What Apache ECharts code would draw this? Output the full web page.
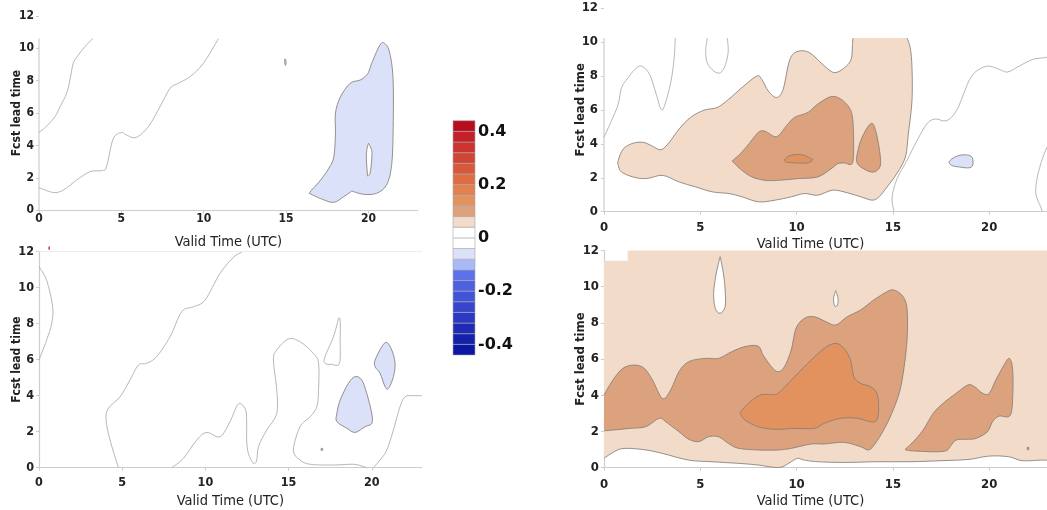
<!DOCTYPE html>
<html>
<head>
<meta charset="utf-8">
<script src="https://cdn.jsdelivr.net/npm/echarts@6/dist/echarts.min.js"></script>
<style>
  html, body { margin: 0; padding: 0; background: #fff; }
  #chart { width: 1047px; height: 510px; }
</style>
</head>
<body>
<div id="chart"></div>
<script>
// ---------- tick labels ----------
const hourTicks = [0, 5, 10, 15, 20];
const leadTicks = [0, 2, 4, 6, 8, 10, 12];
const barTicks = [0.4, 0.2, 0, -0.2, -0.4];

// ---------- colour bands (lower edge of each 0.04 band) ----------
const bandStep = 0.04;
const bandLower = [-0.44, -0.40, -0.36, -0.32, -0.28, -0.24, -0.20, -0.16, -0.12, -0.08, -0.04,
                   0.00, 0.04, 0.08, 0.12, 0.16, 0.20, 0.24, 0.28, 0.32, 0.36, 0.40];
const bandColors = ['#0b16a2', '#1520ab', '#1f2bb6', '#2b38c1', '#3646cc', '#4254d6', '#4e62df',
                    '#5c72e8', '#a9b9f5', '#dae1f8', '#ffffff', '#ffffff', '#f2dbc8', '#dca27d',
                    '#e2925e', '#e3804d', '#de6c44', '#d8583d', '#d14535', '#ca332e', '#c32127', '#b90d1f'];

// ---------- contours: [valid hour, lead time, vertex kind] ----------
// vertex kind: 1 = sharp vertex, 2 = vertex on the plot frame (edge between two such is not outlined)

// top-left panel
const tlZeroA = [[0,4.8],[0.47,5.2],[0.97,5.78],[1.28,6.4],[1.68,7.22],[1.88,8.05],[2.08,9.07],[2.39,9.59],[2.79,10.1],[3.26,10.6]];
const tlZeroB = [[0,1.4],[0.87,1.1],[1.48,1.25],[2.29,1.87],[3.1,2.39],[3.8,2.45],[4.1,2.7],[4.5,4.4],[5.0,4.8],[5.3,4.65],[5.9,4.5],[6.64,5.16],[7.35,6.4],[7.96,7.53],[8.46,7.84],[9.17,8.25],[9.98,9.07],[10.9,10.6]];
const tlBlue = [[16.4,1.05,1],[17.2,0.68],[17.9,0.49],[18.5,0.84],[19.0,1.19,1],[19.7,0.99],[20.5,1.05],[21.1,1.56],[21.4,2.7],[21.5,4.75],[21.5,8.04],[21.3,9.7],[21.0,10.3],[20.7,10.2],[20.2,9.07],[20.06,8.66],[19.9,8.35],[19.5,8.04],[18.9,7.84],[18.3,7.0],[18.0,6.0],[18.0,4.75],[17.9,3.3],[17.6,2.6],[17.1,1.87],[16.6,1.3]];
const tlBlueHole = [[20.0,4.14,1],[20.2,3.7],[20.2,3.1],[20.1,2.28],[19.95,2.12,1],[19.88,3.1],[19.9,3.7]];
const tlSpeck = [[14.93,9.35],[15.0,9.2],[14.97,8.95],[14.92,9.1]];

// top-right panel
const trLow = [[0.74,3.02],[1.0,3.7],[1.5,4.03],[2.02,4.09],[2.45,3.9],[2.96,3.65],[3.39,4.09],[3.9,4.87],[4.5,5.56],[5.19,5.98],[5.88,6.14],[6.48,6.63],[7.16,7.31],[7.93,7.99],[8.19,7.8],[8.53,7.11],[8.96,6.73],[9.3,7.21],[9.65,8.97],[10.08,9.45],[10.68,9.36],[11.45,8.58],[11.96,8.19],[12.48,8.48],[12.83,8.97],[12.9,9.84],[12.92,10.23,2],[15.73,10.23,2],[15.9,9.65],[15.99,8.48],[15.99,6.53],[15.8,4.58],[15.65,3.22],[15.2,2.24],[14.7,1.46],[14.28,0.88],[13.93,0.68],[13.33,0.88],[12.65,1.11],[11.88,1.27],[11.1,0.97],[10.42,1.07],[9.73,0.88],[8.88,0.68],[8.02,0.58],[7.16,0.88],[6.48,1.07],[5.62,1.17],[4.76,1.46],[3.9,1.75],[3.05,2.14],[2.19,1.95],[1.5,2.05],[0.91,2.34],[0.74,2.73]];
const trMid = [[6.65,2.98,1],[7.16,3.51],[7.59,4.09],[8.02,4.68],[8.36,4.74],[8.96,4.42],[9.48,5.07],[9.9,5.56],[10.59,5.85],[11.1,6.34],[11.79,6.78],[12.3,6.63],[12.73,6.14],[12.9,5.56],[12.96,4.19],[12.9,2.87],[12.48,2.87],[12.14,2.83],[11.79,2.53],[11.1,2.05],[10.08,1.95],[9.05,1.85],[8.36,1.85],[7.68,2.05],[7.16,2.44]];
const trMidSmall = [[13.13,3.31],[13.33,4.19],[13.68,4.97],[13.93,5.2],[14.1,4.78],[14.28,3.8],[14.36,2.83],[14.19,2.44],[13.85,2.34],[13.33,2.63],[13.13,2.92]];
const trCore = [[9.36,3.02,1],[9.56,3.26],[9.99,3.37],[10.42,3.31],[10.85,3.06,1],[10.59,2.88],[9.99,2.87],[9.48,2.92]];
const trBlue = [[17.93,2.96],[18.22,3.22],[18.65,3.35],[19.07,3.26],[19.16,2.83],[18.99,2.59],[18.47,2.63],[18.04,2.73]];
const trZeroH = [[0,4.39],[0.39,5.36],[0.74,6.34],[0.91,7.31],[1.25,7.89],[1.6,8.38],[1.94,8.58],[2.37,8.09],[2.71,6.92],[2.96,6.04],[3.14,6.24],[3.48,7.7],[3.65,9.16],[3.7,10.23]];
const trZeroI = [[5.36,10.23],[5.28,9.45],[5.36,8.77],[5.7,8.28],[6.05,8.19],[6.31,8.67],[6.45,9.45],[6.4,10.23]];
const trZeroJ = [[15.05,0],[14.96,0.88],[15.22,1.95],[15.73,3.02],[16.25,4.19],[16.76,5.17],[17.19,5.46],[17.79,5.36],[18.3,5.95],[18.73,7.11],[18.99,7.8],[19.33,8.28],[19.93,8.58],[20.53,8.38],[20.96,8.23],[21.56,8.58],[22.25,8.97],[22.76,9.06],[23,9.1]];
const trZeroK = [[23,3.8],[22.76,3.12],[22.5,2.05],[22.42,1.07],[22.67,0.29],[22.76,0]];

// bottom-left panel
const blZeroC = [[0,11.17],[0.46,10.4],[0.82,8.94],[0.76,8.0],[0.46,7.1],[0,5.98]];
const blZeroD = [[4.77,0],[4.27,1.54],[4.03,2.65],[4.17,3.3],[4.87,3.94],[5.47,4.87],[5.97,5.7],[6.47,5.8],[7.07,6.17],[7.88,7.28],[8.58,8.67],[9.28,8.94],[9.98,9.31],[10.88,10.8],[11.7,11.7],[12.18,11.96]];
const blZeroE = [[7.98,0],[8.68,0.52],[9.48,1.54],[10.08,1.96],[10.88,1.72],[11.48,2.56],[11.98,3.54],[12.4,3.25],[12.48,2.6],[12.48,1.54],[12.58,0.8],[12.89,0.24],[13.09,0.43],[13.19,1.17],[13.69,2.1],[14.29,3.0],[14.29,4.3],[14.09,5.98],[14.29,6.54],[14.99,7.15],[15.69,7.0],[16.49,6.35],[16.8,5.8],[16.8,4.3],[16.7,3.4],[16.3,2.83],[15.69,2.28],[15.29,0.98],[15.69,0.43],[16.3,0.19],[17.7,0.15],[18.9,0.19],[19.5,0.06],[19.7,0]];
const blZeroF = [[17.19,6.17],[17.7,7.28],[18.0,8.3,1],[18.1,8.2],[18.1,7.1],[18.06,5.8],[17.6,5.74],[17.19,5.8]];
const blZeroG = [[20.1,0],[20.5,0.43],[20.9,0.98],[21.3,2.1],[21.7,3.4],[22.0,3.94],[22.4,4.0],[23,4.0]];
const blBlueA = [[17.9,3.0],[18.1,3.76],[18.6,4.69],[19.0,5.06],[19.4,4.87],[19.7,4.13],[20.0,3.0],[20.0,2.46],[19.6,2.28],[19.0,1.96],[18.5,2.19],[17.9,2.56]];
const blBlueB = [[20.2,5.98],[20.6,6.72],[20.9,6.96],[21.2,6.54],[21.4,5.8],[21.3,5.06],[21.0,4.4],[20.8,4.5],[20.5,5.24],[20.2,5.61]];
const blDot = [[16.96,1.07],[17.04,1.07],[17.04,0.97],[16.96,0.97]];
const blRedSpeck = [[0.58,12.28],[0.64,12.28],[0.64,12.12],[0.58,12.12]];

// bottom-right panel
const brLow = [[0,11.44,2],[1.23,11.44,2],[1.23,12,2],[23,12,2],[23,0.4,2],[22.76,0.42],[21.7,0.39],[21.0,0.61],[19.97,0.64],[18.97,0.46],[17.6,0.39],[15.89,0.33],[14.17,0.33],[12.46,0.29],[11.1,0.33],[10.4,0.42],[10.06,0.52],[9.72,0.33],[9.2,0.03],[8.6,0.05],[8.0,0.15],[6.98,0.24],[5.6,0.33],[4.4,0.42],[3.03,0.79],[2.18,0.98],[1.15,1.07],[0.63,0.94],[0,0.52,2]];
const brMid = [[0,4.01,2],[0.46,4.84],[0.98,5.49],[1.58,5.67],[2.09,5.49],[2.52,4.84],[3.03,3.83],[3.46,4.29],[3.89,5.3],[4.4,5.86],[5.26,6.04],[5.95,6.04],[6.63,6.41],[7.32,6.69],[8.0,6.72],[8.26,6.22],[8.69,5.58],[9.03,5.3],[9.37,5.58],[9.72,6.5],[9.97,7.7],[10.4,8.25],[10.92,8.34],[11.52,8.07],[12.03,7.88],[12.63,8.34],[13.32,8.71],[14.0,9.26],[14.69,9.72],[15.03,9.82],[15.46,9.54],[15.72,8.9],[15.75,7.42],[15.63,5.95],[15.37,4.29],[14.94,3.0],[14.52,2.08],[14.09,1.34],[13.74,0.98],[13.32,1.16],[12.46,1.4],[11.43,1.31],[10.75,1.31],[9.72,1.07],[9.03,0.98],[8.0,0.98],[6.98,1.07],[6.46,1.34],[5.95,1.71],[5.43,1.71],[4.92,1.44],[4.4,1.57],[3.89,1.99],[3.2,2.54],[2.86,2.73],[2.18,2.27],[1.32,2.17],[0.46,2.08],[0,2.04,2]];
const brMidRight = [[15.63,1.01,1],[16.06,1.44],[16.57,2.08],[17.09,3.0],[17.6,3.55],[18.28,4.11],[18.89,4.57],[19.23,4.48],[19.66,4.11],[20.0,4.11],[20.34,4.84],[20.77,5.67],[21.03,6.04],[21.2,5.58],[21.23,4.29],[21.1,2.91],[20.51,2.85],[20.17,2.54],[19.91,1.99],[19.31,1.62],[18.8,1.57],[18.29,1.53],[18.03,1.25],[17.77,0.94],[17.09,0.88],[15.89,0.94]];
const brCore = [[7.06,3.04,1],[7.49,3.55],[8.09,4.01],[8.6,4.05],[9.03,4.11],[9.72,4.84],[10.57,5.76],[11.43,6.59],[12.03,6.87],[12.46,6.59],[12.8,5.95],[12.97,5.03],[13.32,4.66],[13.83,4.48],[14.17,4.11],[14.26,3.37],[14.17,2.63],[13.83,2.54],[13.14,2.73],[12.29,2.73],[11.43,2.45],[10.92,2.17],[9.89,2.17],[8.86,2.12],[8.0,2.27],[7.32,2.63]];
const brHoleA = [[6.03,11.66,1],[6.2,10.74],[6.29,9.82],[6.29,8.9],[6.03,8.53],[5.78,8.8],[5.69,9.63],[5.83,10.74]];
const brHoleB = [[12.03,9.78,1],[12.15,9.36],[12.12,8.99],[11.98,8.93],[11.92,9.36]];
const brSpeck = [[21.98,1.12],[22.05,1.12],[22.05,1.0],[21.98,1.0]];

// ---------- panel layout ----------
const FONT = '"DejaVu Sans Condensed", "DejaVu Sans", sans-serif';
const panels = [
  { grid: { left: 39, top: 15.9, width: 378.8, height: 194.4 }, tick: 12, xMargin: 3, yMargin: 5,
    yNameGap: 16, yNameSize: 12, xNameGap: 24, nameShift: 0, yLineTop: 10.6,
    shapes: [
      { pts: tlZeroA }, { pts: tlZeroB },
      { level: -0.06, pts: tlBlue }, { level: -0.02, pts: tlBlueHole }, { level: -0.06, pts: tlSpeck }
    ] },
  { grid: { left: 604, top: 8, width: 447, height: 203.7 }, tick: 13, xMargin: 9, yMargin: 6,
    yNameGap: 17, yNameSize: 13, xNameGap: 25, nameShift: 30, yLineTop: 10.23,
    shapes: [
      { level: 0.06, pts: trLow }, { level: 0.10, pts: trMid }, { level: 0.10, pts: trMidSmall },
      { level: 0.14, pts: trCore }, { level: -0.06, pts: trBlue },
      { pts: trZeroH }, { pts: trZeroI }, { pts: trZeroJ }, { pts: trZeroK }
    ] },
  { grid: { left: 39, top: 251.7, width: 382.7, height: 216 }, tick: 12.5, xMargin: 9, yMargin: 5,
    yNameGap: 16, yNameSize: 12, xNameGap: 26, nameShift: 0, yLineTop: null,
    shapes: [
      { pts: blZeroC }, { pts: blZeroD }, { pts: blZeroE }, { pts: blZeroG }, { pts: blZeroF, closed: true },
      { level: -0.06, pts: blBlueA }, { level: -0.06, pts: blBlueB }, { level: -0.10, pts: blDot },
      { level: 0.42, pts: blRedSpeck, bare: true }
    ] },
  { grid: { left: 604, top: 250.5, width: 447, height: 217.2 }, tick: 13, xMargin: 10, yMargin: 5,
    yNameGap: 17, yNameSize: 13, xNameGap: 26, nameShift: 30, yLineTop: null,
    shapes: [
      { level: 0.06, pts: brLow }, { level: 0.10, pts: brMid }, { level: 0.10, pts: brMidRight },
      { level: 0.14, pts: brCore }, { level: 0.02, pts: brHoleA }, { level: 0.02, pts: brHoleB },
      { level: 0.14, pts: brSpeck }
    ] }
];

function colorFor(level) {
  return bandColors[Math.floor((level - bandLower[0]) / bandStep + 1e-9)];
}

// Smooth outline through the points (Catmull-Rom as cubic Bezier), in pixel space.
function outline(pts, closed, api) {
  const P = pts.map(p => { const c = api.coord([p[0], p[1]]); return [c[0], c[1], p[2] || 0]; });
  const n = P.length, k = 1 / 6;
  const at = i => closed ? P[(i + n) % n] : P[Math.min(n - 1, Math.max(0, i))];
  const f = v => v.toFixed(2);
  let fill = 'M' + f(P[0][0]) + ' ' + f(P[0][1]);
  let line = fill;
  const segs = closed ? n : n - 1;
  for (let i = 0; i < segs; i++) {
    const a0 = at(i - 1), a = at(i), b = at(i + 1), b1 = at(i + 2);
    if (a[2] === 2 && b[2] === 2) {
      fill += ' L' + f(b[0]) + ' ' + f(b[1]);
      line += ' M' + f(b[0]) + ' ' + f(b[1]);
      continue;
    }
    const c1 = a[2] ? a : [a[0] + (b[0] - a0[0]) * k, a[1] + (b[1] - a0[1]) * k];
    const c2 = b[2] ? b : [b[0] - (b1[0] - a[0]) * k, b[1] - (b1[1] - a[1]) * k];
    const seg = ' C' + f(c1[0]) + ' ' + f(c1[1]) + ' ' + f(c2[0]) + ' ' + f(c2[1]) + ' ' + f(b[0]) + ' ' + f(b[1]);
    fill += seg;
    line += seg;
  }
  if (closed) fill += ' Z';
  return { fill, line };
}

function renderShape(shape, api, idx) {
  const filled = shape.level != null;
  const closed = filled || !!shape.closed;
  const o = outline(shape.pts, closed, api);
  const children = [];
  if (filled) {
    children.push({ type: 'path', z2: idx * 2, shape: { pathData: o.fill },
      style: { fill: colorFor(shape.level), stroke: 'none' } });
  }
  if (!shape.bare) {
    children.push({ type: 'path', z2: idx * 2 + 1, shape: { pathData: o.line },
      style: { fill: 'none', stroke: filled ? '#857d77' : '#a4a4a4', lineWidth: filled ? 0.85 : 0.8 } });
  }
  return { type: 'group', children };
}

const axisGray = '#cdcdcd';
const grids = [], xAxes = [], yAxes = [], series = [];

panels.forEach((p, i) => {
  grids.push(p.grid);
  xAxes.push({
    gridIndex: i, type: 'value', min: 0, max: 23,
    name: 'Valid Time (UTC)', nameLocation: 'middle', nameGap: p.xNameGap, nameMoveOverlap: false,
    nameTextStyle: { fontSize: 14.5, color: '#222', fontFamily: FONT, padding: [0, p.nameShift, 0, 0] },
    axisLine: { lineStyle: { color: axisGray, width: 1.2 } },
    axisTick: { customValues: hourTicks, length: 3, lineStyle: { color: axisGray } },
    axisLabel: { customValues: hourTicks, fontSize: p.tick, fontWeight: 'bold', color: '#222',
                 margin: p.xMargin, fontFamily: FONT },
    splitLine: { show: false }
  });
  yAxes.push({
    gridIndex: i, type: 'value', min: 0, max: 12, interval: 2,
    name: 'Fcst lead time', nameLocation: 'middle', nameRotate: 90, nameGap: p.yNameGap,
    nameMoveOverlap: false,
    nameTextStyle: { fontSize: p.yNameSize, fontWeight: 'bold', color: '#222', fontFamily: FONT },
    axisLine: { show: p.yLineTop == null, lineStyle: { color: axisGray, width: 1.2 } },
    axisTick: { customValues: leadTicks, length: 3, lineStyle: { color: axisGray } },
    axisLabel: { customValues: leadTicks, fontSize: p.tick, fontWeight: 'bold', color: '#222',
                 margin: p.yMargin, fontFamily: FONT },
    splitLine: { show: false }
  });
  series.push({
    type: 'custom', coordinateSystem: 'cartesian2d', xAxisIndex: i, yAxisIndex: i,
    silent: true, animation: false,
    data: p.shapes.map((s, k) => [k, 0]),
    renderItem: (params, api) => renderShape(p.shapes[params.dataIndex], api, params.dataIndex)
  });
  if (p.yLineTop != null) {
    // left axis line only as tall as the plotted field
    series.push({
      type: 'custom', coordinateSystem: 'cartesian2d', xAxisIndex: i, yAxisIndex: i,
      silent: true, animation: false, data: [[0, p.yLineTop]],
      renderItem: (params, api) => {
        const a = api.coord([0, 0]), b = api.coord([0, api.value(1)]);
        return { type: 'line', shape: { x1: a[0], y1: a[1], x2: b[0], y2: b[1] },
                 style: { stroke: axisGray, lineWidth: 1.2 } };
      }
    });
  }
});

// colour bar
grids.push({ left: 453, top: 120.7, width: 22, height: 234.3 });
xAxes.push({ gridIndex: 4, type: 'value', min: 0, max: 1, show: false });
yAxes.push({
  gridIndex: 4, type: 'value', min: -0.44, max: 0.44, position: 'right',
  axisLine: { show: false }, axisTick: { show: false }, splitLine: { show: false },
  axisLabel: { customValues: barTicks, fontSize: 16, fontWeight: 'bold', color: '#111',
               margin: 3, fontFamily: '"DejaVu Sans", sans-serif' }
});
series.push({
  type: 'custom', coordinateSystem: 'cartesian2d', xAxisIndex: 4, yAxisIndex: 4,
  silent: true, animation: false,
  data: bandLower.map(v => [0.5, v]),
  renderItem: (params, api) => {
    const lo = api.value(1);
    const a = api.coord([0, lo + bandStep]), b = api.coord([1, lo]);
    return { type: 'rect', shape: { x: a[0], y: a[1], width: b[0] - a[0], height: b[1] - a[1] },
             style: { fill: bandColors[params.dataIndex], stroke: '#a9a9a9', lineWidth: 0.6 } };
  }
});

// faint frame line along the top of the lower-left panel
xAxes.push({
  gridIndex: 2, type: 'value', min: 0, max: 23, position: 'top',
  axisLine: { lineStyle: { color: '#ececec', width: 1 } },
  axisTick: { show: false }, axisLabel: { show: false }, splitLine: { show: false }
});

const chart = echarts.init(document.getElementById('chart'), null, { renderer: 'canvas' });
chart.setOption({
  animation: false,
  backgroundColor: '#ffffff',
  textStyle: { fontFamily: FONT },
  grid: grids,
  xAxis: xAxes,
  yAxis: yAxes,
  series: series
});
</script>
</body>
</html>
